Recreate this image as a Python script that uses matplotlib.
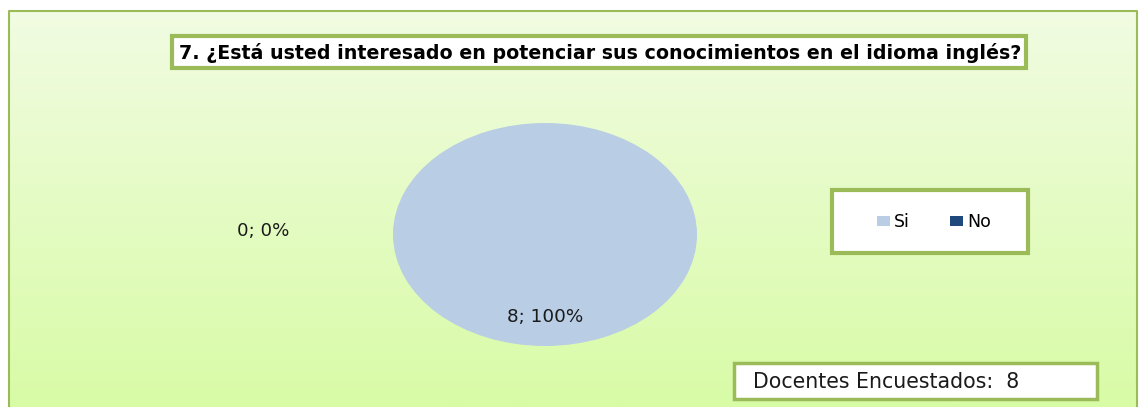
import numpy as np
import matplotlib.pyplot as plt
from matplotlib.patches import Rectangle

# data
categories = ["Si", "No"]
counts = [8, 0]
colors = ["#B9CDE5", "#1F497D"]
title = "7. ¿Está usted interesado en potenciar sus conocimientos en el idioma inglés?"
total_label = "Docentes Encuestados:  8"

W, H = 1141, 407
GREEN = "#9BBB59"

plt.rcParams['font.family'] = ['DejaVu Sans']

fig = plt.figure(figsize=(W / 100, H / 100), dpi=100)
fig.patch.set_facecolor("white")
renderer = fig.canvas.get_renderer()


def fit_width(txt, width_px):
    # the original is stretched sideways, so size text by its width
    bb = txt.get_window_extent(renderer=renderer)
    txt.set_fontsize(txt.get_fontsize() * width_px / bb.width)


# background layer in pixel coords
bg = fig.add_axes([0, 0, 1, 1])
bg.set_xlim(0, W)
bg.set_ylim(H, 0)
bg.axis("off")

# chart area gradient (light at top -> green at bottom)
top = np.array([241, 252, 226]) / 255
bot = np.array([216, 251, 166]) / 255
t = np.linspace(0, 1, 200)[:, None]
grad = (top * (1 - t) + bot * t)[:, None, :]
bg.imshow(grad, extent=[9, 1137, H, 11], aspect="auto", zorder=0)
bg.plot([9, 9, 1137, 1137], [H, 11, 11, H], color=GREEN, lw=1.5, zorder=1)

# title box
bg.add_patch(Rectangle((174, 38), 854, 32, facecolor="#c8c8c8", edgecolor="none", zorder=1))
bg.add_patch(Rectangle((172, 36), 854, 32, facecolor="white", edgecolor=GREEN, lw=3, zorder=2))
t_title = bg.text(600, 53, title, ha="center", va="center", fontsize=12, fontweight="bold",
                  color="black", zorder=3)
fit_width(t_title, 838)

# legend box
bg.add_patch(Rectangle((832, 190), 196, 63, facecolor="white", edgecolor=GREEN, lw=3, zorder=2))

# count box
bg.add_patch(Rectangle((734, 363), 363, 36, facecolor="white", edgecolor=GREEN, lw=2.5, zorder=2))
t_tot = bg.text(753, 382, total_label, ha="left", va="center", fontsize=12,
                color="#1a1a1a", zorder=3)
fit_width(t_tot, 266)

# pie (ellipse as in the original)
px0, py0, pw, ph = 393, 123, 304, 223
ax = fig.add_axes([px0 / W, 1 - (py0 + ph) / H, pw / W, ph / H])
wedges, _ = ax.pie(counts, colors=colors, startangle=90, counterclock=False,
                   radius=1.0, wedgeprops=dict(linewidth=0))
ax.set_aspect("auto")
ax.set_xlim(-1, 1)
ax.set_ylim(-1, 1)
ax.axis("off")

total = sum(counts)
pcts = [100 * c / total for c in counts]
labels = [f"{c}; {p:.0f}%" for c, p in zip(counts, pcts)]

# Si label at slice midpoint (bottom), No label off to the left as Excel placed it
ang = np.deg2rad(90 - 360 * counts[0] / total / 2)
t_si = ax.text(0.74 * np.cos(ang), 0.74 * np.sin(ang), labels[0], ha="center", va="center",
               fontsize=10, color="#1a1a1a")
fit_width(t_si, 76)
t_no = ax.text(-1.855, 0.03, labels[1], ha="center", va="center", fontsize=10,
               color="#1a1a1a", clip_on=False)
fit_width(t_no, 52)

# legend inside its box
leg = fig.legend(wedges, categories, loc="center", ncol=2,
                 bbox_to_anchor=(934 / W, 1 - 222 / H), frameon=False,
                 fontsize=12.5, handlelength=0.75, handleheight=0.52,
                 handletextpad=0.25, columnspacing=2.3)

fig.savefig("out.png", dpi=100, facecolor="white")
